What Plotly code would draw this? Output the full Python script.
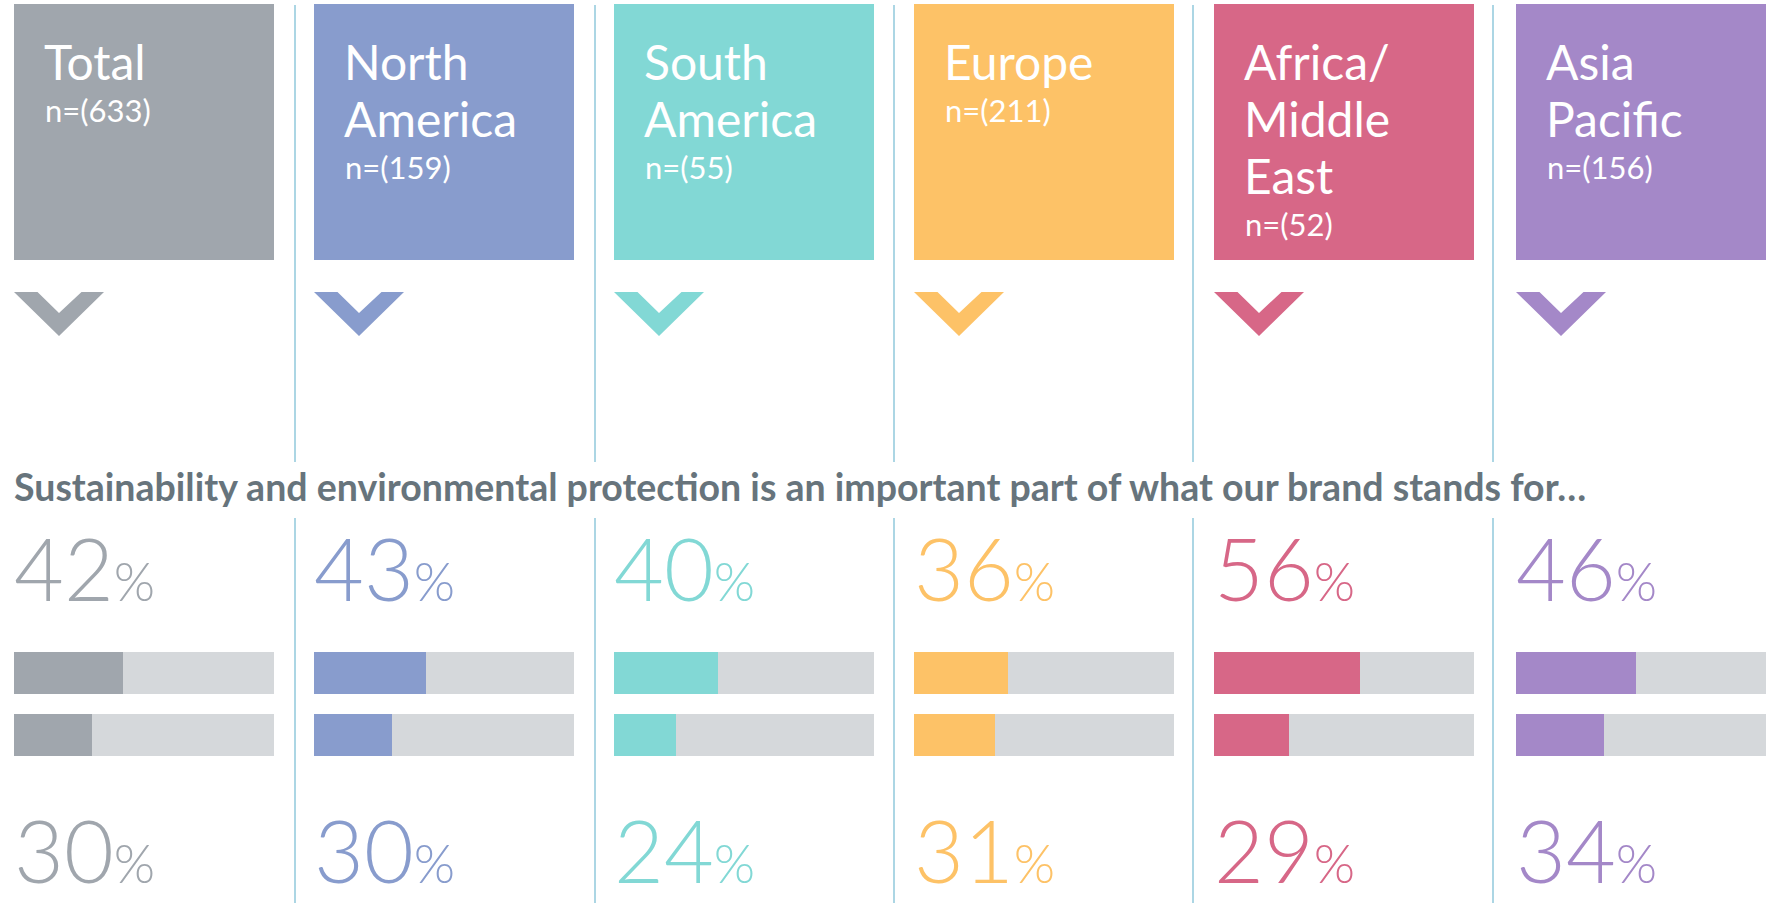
import plotly.graph_objects as go

# ---- data -------------------------------------------------------------
regions = ["Total", "North America", "South America", "Europe",
           "Africa/Middle East", "Asia Pacific"]
header_lines = [["Total"], ["North", "America"], ["South", "America"],
                ["Europe"], ["Africa/", "Middle", "East"], ["Asia", "Pacific"]]
sample_sizes = [633, 159, 55, 211, 52, 156]
agree_top = [42, 43, 40, 36, 56, 46]
agree_bottom = [30, 30, 24, 31, 29, 34]
question = ("Sustainability and environmental protection is an important "
            "part of what our brand stands for\u2026")

# ---- styling ----------------------------------------------------------
colors = ["#a0a6ad", "#889ccd", "#82d8d5", "#fdc267", "#d76787", "#a488c8"]
track_color = "#d5d8db"
divider_color = "#acd6e4"
title_color = "#67747c"
FONT = "Lato"

W, H = 1766, 903
col_left = [14, 314, 614, 914, 1214, 1516]
col_w = 260
dividers = [295, 595, 894, 1193, 1493]

fig = go.Figure()

shapes = []
annotations = []

# vertical separators (broken around the question line)
for dx in dividers:
    shapes.append(dict(type="line", xref="x", yref="y", x0=dx, x1=dx, y0=5, y1=462,
                       line=dict(color=divider_color, width=2)))
    shapes.append(dict(type="line", xref="x", yref="y", x0=dx, x1=dx, y0=518, y1=H,
                       line=dict(color=divider_color, width=2)))

HEAD_FS = 48
N_FS = 31
PCT_FS = 86
PCT_SMALL = 53

for i, left in enumerate(col_left):
    c = colors[i]
    # header tile
    shapes.append(dict(type="rect", xref="x", yref="y", x0=left, x1=left + col_w,
                       y0=4, y1=260, fillcolor=c, line=dict(width=0), layer="above"))
    # chevron under the tile
    cx = left + 45
    path = (f"M {left},292 L {left + 23.5},292 L {cx},313 L {left + 67.5},292 "
            f"L {left + 90},292 L {cx},336 Z")
    shapes.append(dict(type="path", xref="x", yref="y", path=path,
                       fillcolor=c, line=dict(width=0), layer="above"))

    # header text lines
    base = 81
    for k, line in enumerate(header_lines[i]):
        annotations.append(dict(
            x=left + 29, y=base + 57 * k + 0.213 * HEAD_FS, xref="x", yref="y",
            xanchor="left", yanchor="bottom", showarrow=False, borderpad=0,
            text=line, font=dict(family=FONT, size=HEAD_FS, color="white")))
    last = base + 57 * (len(header_lines[i]) - 1)
    annotations.append(dict(
        x=left + 30, y=last + 42 + 0.213 * N_FS, xref="x", yref="y",
        xanchor="left", yanchor="bottom", showarrow=False, borderpad=0,
        text=f"n=({sample_sizes[i]})",
        font=dict(family=FONT, size=N_FS, color="white")))

    # percentages
    for val, baseline in ((agree_top[i], 602), (agree_bottom[i], 884)):
        annotations.append(dict(
            x=left - 1, y=baseline + 0.213 * PCT_FS, xref="x", yref="y",
            xanchor="left", yanchor="bottom", showarrow=False, borderpad=0,
            text=f"{val}<span style='font-size:{PCT_SMALL}px'>%</span>",
            font=dict(family=FONT, size=PCT_FS, color=c, weight=300)))

    # bars on a per-column 0..100 axis
    d0 = left / W
    d1 = min(1.0, (left + col_w) / W)
    rmax = 100 * (d1 * W - left) / col_w
    ax = f"x{i + 2}"
    layout_key = f"xaxis{i + 2}"
    fig.update_layout(**{layout_key: dict(domain=[d0, d1], range=[0, rmax],
                                          anchor="y", visible=False,
                                          fixedrange=True)})
    fig.add_trace(go.Bar(x=[100, 100], y=[673, 735], orientation="h",
                         width=42, marker=dict(color=track_color, line=dict(width=0)),
                         xaxis=ax, yaxis="y", hoverinfo="skip", showlegend=False))
    fig.add_trace(go.Bar(x=[agree_top[i], agree_bottom[i]], y=[673, 735],
                         orientation="h", width=42,
                         marker=dict(color=c, line=dict(width=0)),
                         xaxis=ax, yaxis="y", name=regions[i], showlegend=False))

# question line
TITLE_FS = 37.5
annotations.append(dict(
    x=13, y=502 + 0.213 * TITLE_FS, xref="x", yref="y", xanchor="left",
    yanchor="bottom", showarrow=False, borderpad=0, text=question,
    font=dict(family=FONT, size=TITLE_FS, color=title_color, weight=700)))

fig.update_layout(
    width=W, height=H,
    margin=dict(l=0, r=0, t=0, b=0),
    paper_bgcolor="white", plot_bgcolor="rgba(0,0,0,0)",
    barmode="overlay", bargap=0,
    xaxis=dict(range=[0, W], domain=[0, 1], visible=False, fixedrange=True),
    yaxis=dict(range=[H, 0], domain=[0, 1], visible=False, fixedrange=True),
    shapes=shapes, annotations=annotations,
    showlegend=False,
)

fig.write_html("out.html")
